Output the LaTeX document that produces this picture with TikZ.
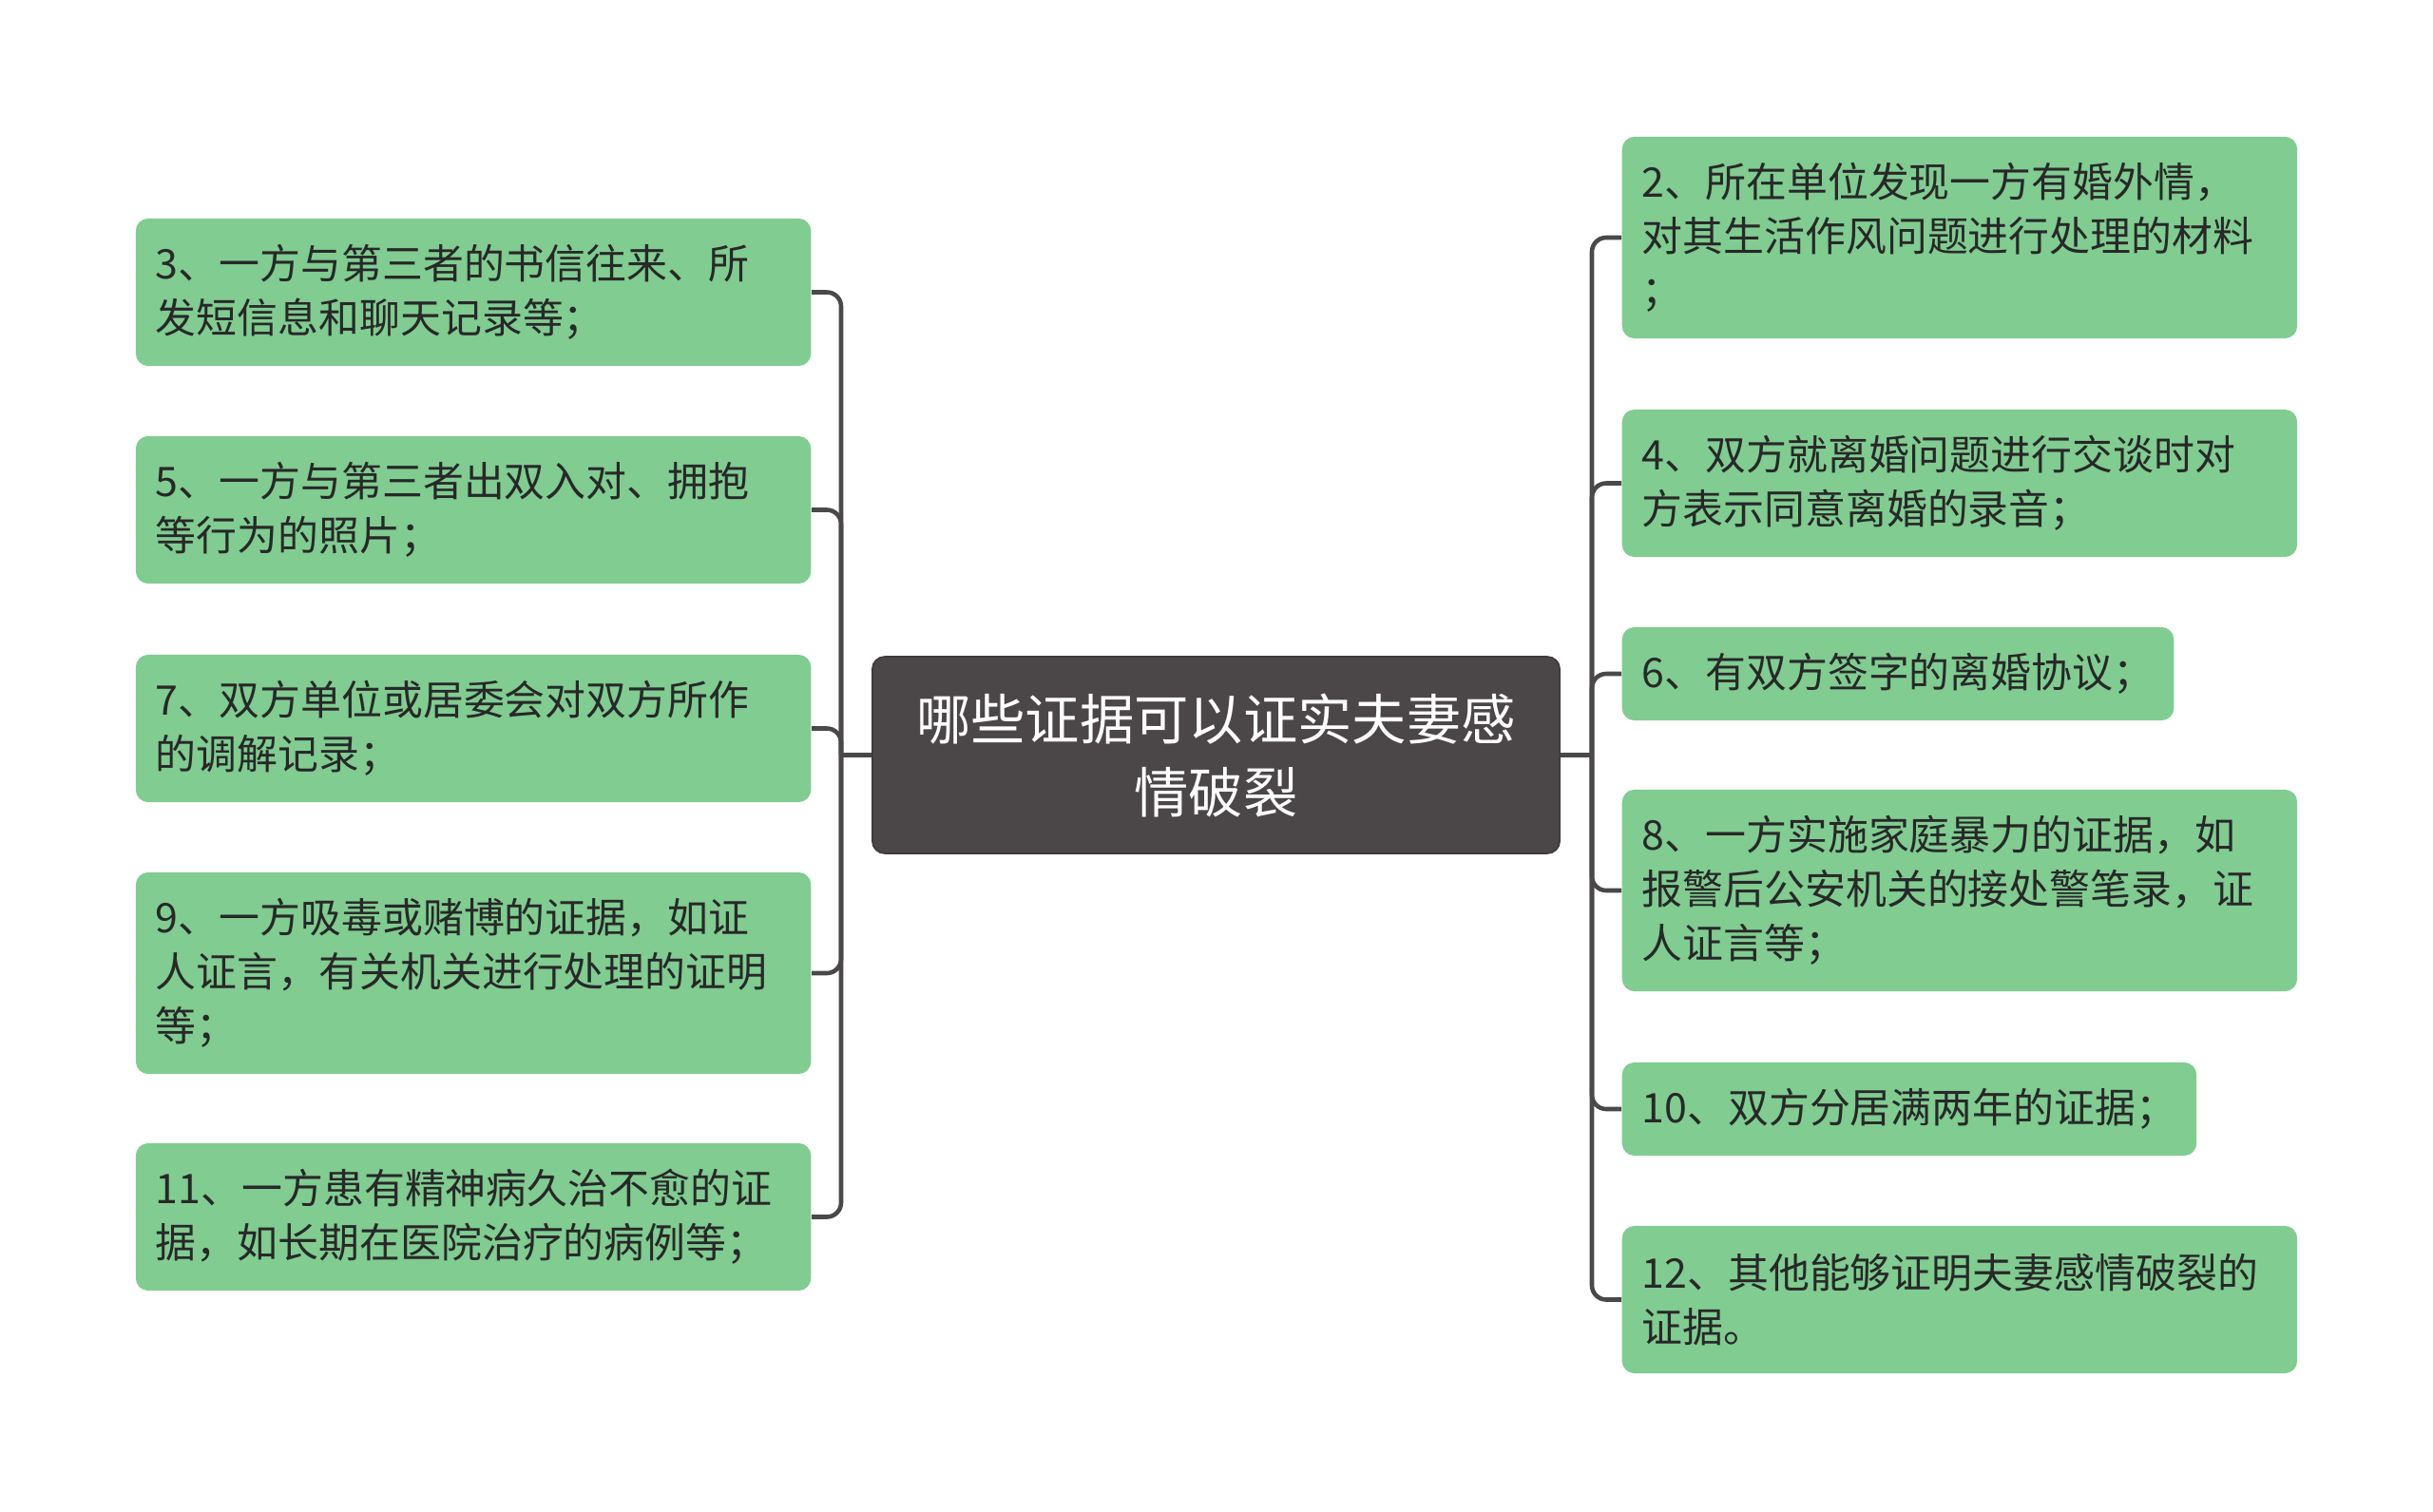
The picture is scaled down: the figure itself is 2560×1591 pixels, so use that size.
\documentclass[tikz,border=0pt]{standalone}
\usepackage{fontspec}
\setmainfont{Noto Sans CJK SC}
\usepackage{xcolor}
\definecolor{leafgreen}{RGB}{128,204,145}
\definecolor{rootgray}{RGB}{75,70,71}
\definecolor{linkgray}{RGB}{75,72,72}
\definecolor{inkdark}{RGB}{40,40,40}

\begin{document}
\begin{tikzpicture}[x=0.01cm, y=-0.01cm,
  root/.style={draw=rootgray!80!black, fill=rootgray, rounded corners=0.13cm, text=white,
               align=center, font=\fontsize{16.3pt}{21.9pt}\selectfont,
               minimum width=7.23cm, minimum height=2.07cm, inner sep=0pt},
  leaf/.style={fill=leafgreen, rounded corners=0.13cm, text=inkdark, align=left,
               font=\fontsize{12.2pt}{16.2pt}\selectfont, inner xsep=0.21cm, inner ysep=0pt},
  wide/.style={leaf, text width=6.68cm},
  one/.style={minimum height=0.98cm},
  two/.style={minimum height=1.55cm},
  three/.style={minimum height=2.12cm},
  link/.style={draw=linkgray, line width=1.3pt, rounded corners=0.15cm},
]
\useasboundingbox (0,0) rectangle (2560,1591);
% Root
\node[root] at (1279.5,794.5) (root) {哪些证据可以证实夫妻感\\情破裂};
% Left branch
\node[wide,two,anchor=east]   at (854,307.5)  (l3)  {3、一方与第三者的书信往来、所\\发短信息和聊天记录等；};
\node[wide,two,anchor=east]   at (854,536.5)  (l5)  {5、一方与第三者出双入对、拥抱\\等行为的照片；};
\node[wide,two,anchor=east]   at (854,766.5)  (l7)  {7、双方单位或居委会对双方所作\\的调解记录；};
\node[wide,three,anchor=east] at (854,1024)   (l9)  {9、一方吸毒或赌博的证据，如证\\人证言，有关机关进行处理的证明\\等；};
\node[wide,two,anchor=east]   at (854,1280.5) (l11) {11、一方患有精神病久治不愈的证\\据，如长期在医院治疗的病例等；};
% Right branch
\node[wide,three,anchor=west] at (1706,250)    (r2)  {2、所在单位发现一方有婚外情，\\对其生活作风问题进行处理的材料\\；};
\node[wide,two,anchor=west]   at (1706,508.5)  (r4)  {4、双方就离婚问题进行交谈时对\\方表示同意离婚的录音；};
\node[leaf,one,anchor=west]   at (1706,709)    (r6)  {6、有双方签字的离婚协议；};
\node[wide,three,anchor=west] at (1706,937)    (r8)  {8、一方实施家庭暴力的证据，如\\报警后公安机关的接处警笔录，证\\人证言等；};
\node[leaf,one,anchor=west]   at (1706,1167)   (r10) {10、双方分居满两年的证据；};
\node[wide,two,anchor=west]   at (1706,1367.5) (r12) {12、其他能够证明夫妻感情破裂的\\证据。};
% Connectors
\coordinate (lbus) at (885,794.5);
\coordinate (rbus) at (1675,794.5);
\draw[link] (root.west) -- (lbus);
\draw[link] (root.east) -- (rbus);
\foreach \n in {l3,l5,l7,l9,l11} \draw[link] (lbus) |- (\n.east);
\foreach \n in {r2,r4,r6,r8,r10,r12} \draw[link] (rbus) |- (\n.west);
\end{tikzpicture}
\end{document}
